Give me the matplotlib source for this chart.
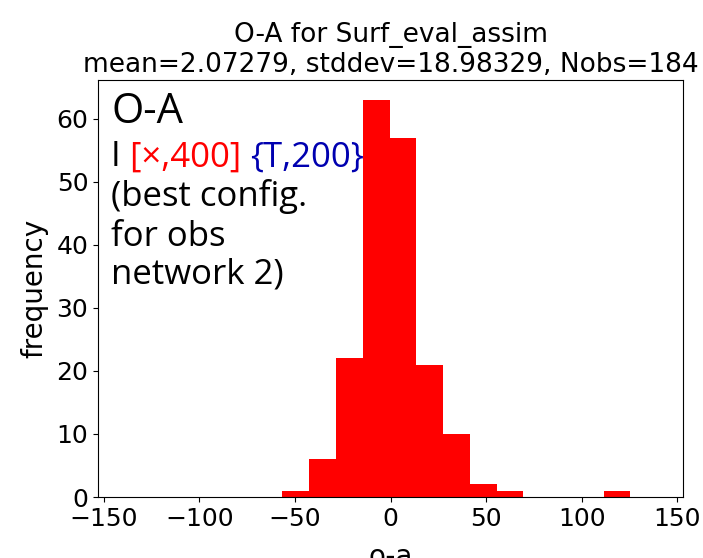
import numpy as np
import matplotlib
matplotlib.use("Agg")
from matplotlib import pyplot as plt

# histogram of O-A
bin_edges = [-56.5, -42.5, -28.5, -14.5, -0.5, 13.5, 27.5, 41.5, 55.5, 69.5, 83.5, 97.5, 111.5, 125.5]
counts = [1, 6, 22, 63, 57, 21, 10, 2, 1, 0, 0, 0, 1]

title = "O-A for Surf_eval_assim\nmean=2.07279, stddev=18.98329, Nobs=184"
xticks = [-150, -100, -50, 0, 50, 100, 150]

fig = plt.figure(figsize=(7.03, 5.58), dpi=100)
ax = fig.add_axes([0.1394, 0.1093, 0.8322, 0.7473])

edges = np.array(bin_edges)
centers = (edges[:-1] + edges[1:]) / 2
ax.hist(centers, bins=edges, weights=counts, color="red")

ax.set_xlim(-153, 153)
ax.set_xticks(xticks)
ax.tick_params(labelsize=18)
ax.set_title(title, fontsize=19)
ax.set_xlabel("o-a", fontsize=20, labelpad=9)
ax.set_ylabel("frequency", fontsize=20, labelpad=6)

# annotation text, top left (one text per line, baselines)
fam = "Open Sans"
x0 = 0.023
ax.text(x0, 0.897, "O-A", transform=ax.transAxes, fontsize=30, family=fam, va="baseline")
t0 = ax.text(x0, 0.793, "I ", transform=ax.transAxes, fontsize=25, family=fam, va="baseline")
t1 = ax.annotate("[×,400] ", xy=(1, 0), xycoords=t0, fontsize=25, family=fam,
                 color="red", va="bottom")
ax.annotate("{T,200}", xy=(1, 0), xycoords=t1, fontsize=25, family=fam,
            color="#0000b0", va="bottom")
for txt, yb in [("(best config.", 0.697), ("for obs", 0.603), ("network 2)", 0.511)]:
    ax.text(x0, yb, txt, transform=ax.transAxes, fontsize=25, family=fam, va="baseline")

fig.savefig("out.png", dpi=100)
